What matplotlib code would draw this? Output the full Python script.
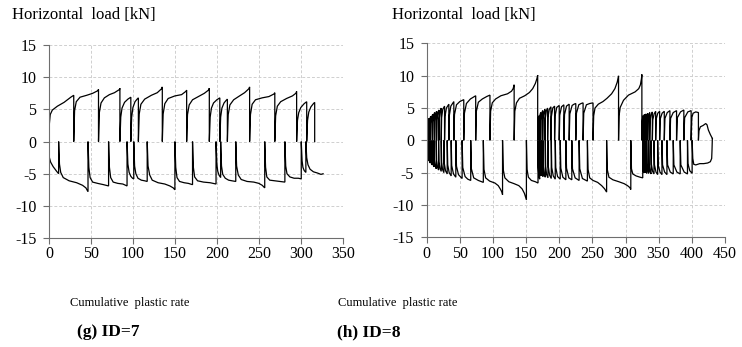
import matplotlib
matplotlib.use("Agg")
import matplotlib.pyplot as plt

plt.rcParams['font.family'] = ['Liberation Serif', 'DejaVu Serif']
plt.rcParams['axes.unicode_minus'] = False

# ID=7 : positive (upper) and negative (lower) load branches
id7_pos = [
    (0, 0), (0.5, 2.8), (1.5, 4.2), (4, 4.9), (10, 5.5), (18, 6.1), (26, 6.9), (29.5, 7.2), (29.5, 0),
    (30.5, 4.8), (32.5, 6.2), (37, 6.9), (45, 7.2), (52, 7.5), (58, 7.9), (59, 8.1), (59, 0),
    (60, 4.5), (62, 6.0), (66, 6.8), (72, 7.3), (78, 7.6), (84, 8.1), (84.5, 8.3), (84.5, 0),
    (85.5, 3.8), (87, 5.2), (90, 6.1), (94, 6.6), (97.5, 6.9), (97.5, 0),
    (98.5, 3.8), (100, 5.3), (102.5, 6.2), (105, 6.6), (106.5, 6.8), (106.5, 0),
    (107.5, 4.3), (109.5, 5.8), (114, 6.6), (122, 7.2), (129, 7.6), (134, 8.2), (135, 8.5), (135, 0),
    (136, 4.3), (138, 5.9), (142, 6.7), (150, 7.1), (158, 7.3), (163, 7.8), (164, 8.0), (164, 0),
    (165, 4.2), (167, 5.7), (171, 6.5), (178, 7.0), (185, 7.5), (190, 8.0), (191, 8.3), (191, 0),
    (192, 3.8), (193.5, 5.2), (196, 6.0), (200, 6.5), (203.5, 6.8), (203.5, 0),
    (204.5, 3.8), (206, 5.2), (208.5, 6.0), (211, 6.4), (212.5, 6.6), (212.5, 0),
    (213.5, 4.2), (215.5, 5.7), (220, 6.5), (227, 7.1), (233, 7.6), (238, 8.2), (239, 8.5), (239, 0),
    (240, 4.2), (242, 5.8), (246, 6.5), (254, 6.8), (262, 7.0), (268, 7.4), (269, 7.6), (269, 0),
    (270, 4.0), (272, 5.5), (276, 6.2), (283, 6.7), (290, 7.1), (294, 7.5), (295, 7.8), (295, 0),
    (296, 3.3), (297.5, 4.5), (300, 5.3), (304, 5.9), (307, 6.2), (307, 0),
    (308, 3.3), (309.5, 4.6), (312, 5.4), (315, 5.9), (316.5, 6.1), (316.5, 0),
]
id7_neg = [
    (0, 0), (0.3, -2.4), (2, -3.2), (5, -3.9), (9, -4.6), (11.5, -5.0), (11.5, 0),
    (12.5, -3.5), (14, -4.8), (17, -5.6), (24, -6.1), (33, -6.4), (40, -6.8), (44, -7.2), (46.5, -7.8), (46.5, 0),
    (47.5, -4.0), (49, -5.6), (52, -6.3), (58, -6.5), (65, -6.7), (71, -6.9), (71, 0),
    (72, -4.0), (73.5, -5.6), (76.5, -6.3), (82, -6.5), (88, -6.6), (93, -6.9), (93, 0),
    (94, -3.5), (95.5, -4.8), (97.5, -5.4), (99.5, -5.7), (101, -5.8), (101, 0),
    (102, -3.8), (103.5, -5.0), (106, -5.7), (110, -6.0), (114, -6.1), (117, -6.2), (117, 0),
    (118, -3.8), (120, -5.2), (123, -6.0), (130, -6.4), (138, -6.6), (144, -6.9), (148, -7.2), (150, -7.5), (150, 0),
    (151, -4.0), (152.5, -5.6), (155.5, -6.2), (161, -6.4), (166, -6.5), (171, -6.7), (171, 0),
    (172, -4.0), (173.5, -5.5), (177, -6.1), (184, -6.3), (192, -6.4), (199, -6.6), (199, 0),
    (200, -3.5), (201, -4.6), (202.5, -5.2), (204.5, -5.6), (204.5, 0),
    (205.5, -3.8), (207, -5.1), (210, -5.7), (214, -6.0), (218, -6.1), (222.5, -6.2), (222.5, 0),
    (223.5, -3.8), (225.5, -5.2), (229, -5.9), (236, -6.2), (244, -6.3), (250, -6.5), (254, -6.8), (257, -7.2), (257, 0),
    (258, -4.0), (259.5, -5.5), (263, -6.0), (269, -6.1), (275, -6.2), (281, -6.3), (281, 0),
    (282, -3.8), (283.5, -5.0), (287, -5.5), (292, -5.7), (297, -5.7), (300.5, -5.8), (300.5, 0),
    (301.5, -3.0), (302.5, -4.0), (304, -4.5), (306, -4.8), (306, 0),
    (307, -2.5), (308.5, -3.6), (311, -4.3), (315, -4.7), (320, -4.9), (324, -5.1), (326.5, -5.0),
]

# ID=8
id8_pos = [
    (0, 0), (0.3, 1.8), (0.8, 2.5), (1.5, 2.8), (1.5, 0),
    (1.8, 2.2), (2.5, 3.0), (3.5, 3.4), (3.5, 0),
    (3.9, 2.4), (4.8, 3.3), (6, 3.7), (6, 0),
    (6.5, 2.6), (7.5, 3.6), (9, 4.0), (9, 0),
    (9.5, 2.8), (10.5, 3.9), (12, 4.3), (12, 0),
    (12.5, 3.0), (13.5, 4.1), (15, 4.5), (15, 0),
    (15.5, 3.1), (16.8, 4.3), (18.5, 4.7), (18.5, 0),
    (19, 3.3), (20.3, 4.5), (22, 5.0), (22, 0),
    (22.6, 3.5), (24.3, 4.8), (27, 5.3), (27, 0),
    (27.7, 3.7), (29.8, 5.0), (33.5, 5.6), (33.5, 0),
    (34.3, 3.9), (36.5, 5.3), (41, 6.0), (41, 0),
    (42, 4.0), (45, 5.5), (50, 6.0), (56, 6.3), (56, 0),
    (57, 4.2), (60, 5.7), (66, 6.4), (74, 6.9), (74, 0),
    (75, 4.5), (78, 5.9), (84, 6.4), (91, 6.8), (95.5, 7.0), (95.5, 0),
    (96.5, 4.5), (99, 5.8), (104, 6.4), (112, 6.9), (122, 7.2), (128, 7.6), (130.5, 8.0), (132, 8.6), (132, 0),
    (133, 4.5), (135.5, 5.8), (140, 6.5), (148, 6.9), (155, 7.4), (160, 8.0), (164, 8.8), (166.5, 9.6), (167.5, 10.1), (167.5, 0),
    (167.8, 2.6), (168.6, 3.4), (169.5, 3.8), (169.5, 0),
    (169.9, 2.9), (170.9, 3.9), (172, 4.3), (172, 0),
    (172.4, 3.1), (173.6, 4.2), (175, 4.6), (175, 0),
    (175.5, 3.3), (176.9, 4.4), (178.5, 4.8), (178.5, 0),
    (179, 3.4), (180.6, 4.6), (182.5, 5.0), (182.5, 0),
    (183.1, 3.6), (185, 4.8), (187.5, 5.2), (187.5, 0),
    (188.2, 3.7), (190.3, 5.0), (193, 5.3), (193, 0),
    (193.8, 3.8), (196.3, 5.1), (200, 5.4), (200, 0),
    (200.8, 3.9), (203.5, 5.2), (207, 5.5), (207, 0),
    (208, 4.0), (211, 5.3), (215, 5.6), (215, 0),
    (216, 4.1), (219.5, 5.4), (222.5, 5.6), (225, 5.7), (225, 0),
    (226, 4.2), (229.5, 5.5), (233, 5.7), (236, 5.8), (236, 0),
    (237, 4.2), (241, 5.5), (246, 5.7), (251, 5.8), (251, 0),
    (252, 3.8), (254, 5.0), (259, 5.6), (266, 6.0), (272, 6.5), (279, 7.2), (284, 8.0), (287.5, 9.0), (289.5, 10.0), (289.5, 0),
    (290.3, 3.8), (292, 5.1), (297, 6.2), (304.5, 7.0), (314.5, 7.5), (320, 8.0), (322.5, 8.6), (324, 9.5), (324.7, 10.2), (324.7, 0),
    (325.1, 2.6), (325.8, 3.4), (326.5, 3.8), (326.5, 0),
    (326.9, 2.7), (327.7, 3.6), (328.5, 4.0), (328.5, 0),
    (328.9, 2.8), (329.9, 3.7), (331, 4.1), (331, 0),
    (331.4, 2.9), (332.4, 3.8), (333.5, 4.2), (333.5, 0),
    (334, 3.0), (335.2, 3.9), (336.5, 4.3), (336.5, 0),
    (337.1, 3.1), (338.7, 4.0), (340.5, 4.4), (340.5, 0),
    (341.2, 3.2), (343.2, 4.1), (345.5, 4.5), (345.5, 0),
    (346.3, 3.3), (348.7, 4.2), (351.5, 4.5), (351.5, 0),
    (352.4, 3.3), (355.2, 4.2), (358.5, 4.5), (358.5, 0),
    (359.5, 3.4), (363, 4.3), (367, 4.6), (367, 0),
    (368, 3.4), (372, 4.3), (377, 4.6), (377, 0),
    (378.2, 3.5), (383, 4.4), (388, 4.7), (388, 0),
    (389.2, 3.5), (394, 4.4), (399, 4.6), (399, 0),
    (400, 3.5), (402, 4.2), (406, 4.4), (410, 4.3), (410, 0),
    (410.8, 1.5), (413, 2.1), (417, 2.3), (421, 2.6), (423, 2.4), (425, 1.6), (428, 0.9), (431, 0.3),
]
id8_neg = [
    (0, 0), (0.2, -1.6), (0.6, -2.3), (1, -2.6), (1, 0),
    (1.3, -2.0), (1.8, -2.8), (2.5, -3.1), (2.5, 0),
    (2.9, -2.3), (3.8, -3.1), (5, -3.5), (5, 0),
    (5.4, -2.5), (6.5, -3.4), (8, -3.8), (8, 0),
    (8.4, -2.7), (9.5, -3.7), (11, -4.1), (11, 0),
    (11.5, -2.9), (12.8, -3.9), (14.5, -4.4), (14.5, 0),
    (15, -3.1), (16.3, -4.1), (18, -4.6), (18, 0),
    (18.5, -3.3), (20, -4.3), (22, -4.8), (22, 0),
    (22.6, -3.4), (24, -4.5), (26, -5.0), (26, 0),
    (26.7, -3.6), (28.5, -4.7), (31, -5.2), (31, 0),
    (31.8, -3.8), (34, -5.0), (37, -5.5), (37, 0),
    (37.8, -3.9), (40.5, -5.2), (44, -5.7), (44, 0),
    (45, -4.0), (48, -5.3), (53.5, -5.9), (53.5, 0),
    (54.5, -4.2), (58, -5.6), (62, -6.0), (66.5, -6.2), (66.5, 0),
    (67.5, -4.4), (71, -5.8), (78, -6.2), (85.5, -6.5), (85.5, 0),
    (86.5, -4.5), (89, -5.8), (95, -6.3), (103, -6.6), (108, -7.0), (111, -7.5), (113.5, -8.0), (114.5, -8.4), (114.5, 0),
    (115.5, -4.5), (118, -5.8), (124, -6.4), (132, -6.7), (139, -7.0), (144, -7.5), (147.5, -8.2), (149.5, -8.9), (150.5, -9.2), (150.5, 0),
    (151.5, -4.5), (153.5, -5.7), (158, -6.2), (164, -6.4), (168, -6.6), (168, 0),
    (168.4, -4.2), (169.3, -5.6), (170.5, -6.0), (170.5, 0),
    (170.9, -3.8), (171.8, -5.0), (173, -5.5), (173, 0),
    (173.4, -3.9), (174.3, -5.1), (175.5, -5.6), (175.5, 0),
    (176, -4.0), (177.3, -5.2), (179, -5.7), (179, 0),
    (179.5, -4.0), (181, -5.3), (183, -5.8), (183, 0),
    (183.6, -4.1), (185.5, -5.4), (188, -5.9), (188, 0),
    (188.7, -4.2), (191, -5.5), (194, -6.0), (194, 0),
    (194.8, -4.2), (197.5, -5.6), (201.5, -6.0), (201.5, 0),
    (202.4, -4.3), (205.5, -5.7), (210, -6.1), (210, 0),
    (211, -4.3), (214.5, -5.8), (219, -6.1), (219, 0),
    (220, -4.4), (224, -5.8), (230, -6.2), (230, 0),
    (231, -4.4), (235, -5.9), (242.5, -6.3), (242.5, 0),
    (243.5, -4.5), (246, -5.8), (251, -6.2), (258, -6.5), (264, -7.0), (268.5, -7.5), (271.5, -8.0), (271.5, 0),
    (272.5, -4.5), (275, -5.7), (281, -6.1), (290, -6.4), (298, -6.7), (303, -7.0), (306.5, -7.3), (308, -7.6), (308, 0),
    (309, -4.4), (311, -5.2), (316, -5.5), (322, -5.7), (326, -5.8), (326, 0),
    (326.3, -3.5), (326.8, -4.6), (327.5, -5.0), (327.5, 0),
    (327.8, -3.5), (328.6, -4.6), (329.5, -5.0), (329.5, 0),
    (329.9, -3.6), (330.9, -4.7), (332, -5.1), (332, 0),
    (332.4, -3.6), (333.6, -4.7), (335, -5.1), (335, 0),
    (335.5, -3.7), (336.9, -4.8), (338.5, -5.2), (338.5, 0),
    (339.1, -3.7), (340.9, -4.8), (343, -5.2), (343, 0),
    (343.7, -3.8), (346, -4.9), (348.5, -5.3), (348.5, 0),
    (349.3, -3.8), (352, -4.9), (355, -5.3), (355, 0),
    (355.9, -3.8), (359, -4.9), (362.5, -5.3), (362.5, 0),
    (363.5, -3.8), (367.5, -4.9), (372, -5.2), (372, 0),
    (373, -3.8), (377.5, -4.9), (382.5, -5.2), (382.5, 0),
    (383.5, -3.8), (388.5, -4.9), (393.5, -5.2), (393.5, 0),
    (394.2, -3.6), (397, -4.7), (400.5, -5.1), (400.5, 0),
    (401.5, -2.8), (403, -3.7), (406, -3.8), (412, -3.6), (418, -3.6), (424, -3.5), (428, -3.3), (430, -2.8), (430.5, -1.5), (431, 0.3),
]

x_max = [350, 450]
y_ticks = [-15, -10, -5, 0, 5, 10, 15]
y_label = "Horizontal  load [kN]"
x_label = "Cumulative  plastic rate"
captions = ["(g) ID=7", "(h) ID=8"]

fig = plt.figure(figsize=(7.42, 3.47), dpi=100)
ax_l = fig.add_axes([0.066, 0.314, 0.396, 0.556])
ax_r = fig.add_axes([0.575, 0.316, 0.402, 0.559])

for ax, pos, neg, xm in [(ax_l, id7_pos, id7_neg, x_max[0]), (ax_r, id8_pos, id8_neg, x_max[1])]:
    for series in (pos, neg):
        xs, ys = zip(*series)
        ax.plot(xs, ys, color="black", lw=0.9, solid_joinstyle="miter")
    ax.set_xlim(0, xm)
    ax.set_ylim(-15, 15)
    ax.set_xticks(range(0, xm + 1, 50))
    ax.set_yticks(y_ticks)
    ax.grid(True, linestyle=(0, (3, 2)), color="#cfcfcf", lw=0.7)
    ax.set_axisbelow(True)
    for s in ["top", "right"]:
        ax.spines[s].set_visible(False)
    for s in ["left", "bottom"]:
        ax.spines[s].set_color("#6e6e6e")
    ax.tick_params(axis="both", direction="out", length=4, color="#6e6e6e", labelsize=11.5)
    ax.tick_params(axis="y", pad=5)
    ax.tick_params(axis="x", pad=2)

# titles / labels placed like the original figure
fig.text(12 / 742, 1 - 15 / 347, y_label, fontsize=12, ha="left", va="center")
fig.text(392 / 742, 1 - 15 / 347, y_label, fontsize=12, ha="left", va="center")
fig.text(130 / 742, 1 - 303 / 347, x_label, fontsize=9, ha="center", va="center")
fig.text(398 / 742, 1 - 303 / 347, x_label, fontsize=9, ha="center", va="center")
fig.text(108 / 742, 1 - 332 / 347, captions[0], fontsize=12.5, fontweight="bold", ha="center", va="center")
fig.text(369 / 742, 1 - 332 / 347, captions[1], fontsize=12.5, fontweight="bold", ha="center", va="center")

fig.savefig("out.png", dpi=100)
